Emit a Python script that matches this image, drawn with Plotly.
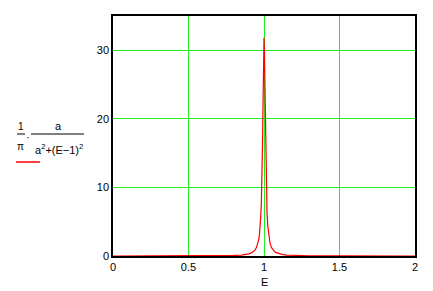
import plotly.graph_objects as go

# Values (Lorentzian peak at E = 1)
E_left = [0.0, 0.5, 0.7, 0.8, 0.85, 0.875, 0.9, 0.92, 0.93, 0.94, 0.95, 0.96, 0.965,
          0.97, 0.975, 0.98, 0.9825, 0.985, 0.9875, 0.99, 0.9925, 0.995, 0.9975]
Y_left = [0.003, 0.013, 0.035, 0.079, 0.14, 0.20, 0.32, 0.49, 0.64, 0.86, 1.22, 1.87, 2.40,
          3.18, 4.39, 6.37, 7.84, 9.79, 12.42, 15.92, 20.37, 25.46, 29.96]
E_peak = [1.0]
Y_peak = [31.83]
E_right = [1.0025, 1.005, 1.0075, 1.01, 1.0125, 1.015, 1.0175, 1.02, 1.025, 1.03, 1.035,
           1.04, 1.05, 1.06, 1.07, 1.08, 1.1, 1.125, 1.15, 1.2, 1.3, 1.5, 2.0]
Y_right = [29.96, 25.46, 20.37, 15.92, 12.42, 9.79, 7.84, 6.37, 4.39, 3.18, 2.40,
           1.87, 1.22, 0.86, 0.64, 0.49, 0.32, 0.20, 0.14, 0.079, 0.035, 0.013, 0.003]

x_ticks = [0, 0.5, 1, 1.5, 2]
x_tick_labels = ["0", "0.5", "1", "1.5", "2"]
y_ticks = [0, 10, 20, 30]
y_tick_labels = ["0", "10", "20", "30"]
x_title = "E"

E = E_left + E_peak + E_right
Y = Y_left + Y_peak + Y_right

GREEN = "#22ee22"
FONT = "Liberation Sans, Arial, sans-serif"

fig = go.Figure()
fig.add_trace(go.Scatter(x=E, y=Y, mode="lines",
                         line=dict(color="#ff0000", width=1.2),
                         showlegend=False, hoverinfo="skip"))

fig.update_layout(
    width=433, height=291,
    margin=dict(l=113, r=18, t=16, b=35, autoexpand=False),
    paper_bgcolor="white", plot_bgcolor="white",
    font=dict(family=FONT, size=11, color="black"),
    xaxis=dict(range=[0, 2], tickvals=x_ticks, ticktext=x_tick_labels,
               showgrid=True, gridcolor=GREEN, gridwidth=1.2, automargin=False,
               zeroline=False, showline=True, linecolor="black", linewidth=1.5,
               mirror=True, ticks="", tickfont=dict(size=11, color="black")),
    yaxis=dict(range=[0, 35], tickvals=y_ticks, ticktext=y_tick_labels,
               showgrid=True, gridcolor=GREEN, gridwidth=1.2, automargin=False,
               zeroline=False, showline=True, linecolor="black", linewidth=1.5,
               mirror=True, ticks="", tickfont=dict(size=11, color="black")),
)

W, H = 302.0, 240.0
def px(x):
    return (x - 113) / W
def py(y):
    return (256 - y) / H

def txt(x, y, s, size=11):
    fig.add_annotation(x=px(x), y=py(y), xref="paper", yref="paper", text=s,
                       showarrow=False, font=dict(family=FONT, size=size, color="black"),
                       xanchor="center", yanchor="middle")

txt(264, 282, x_title, 11)

# label expression: (1/pi) * a / (a^2 + (E-1)^2)
txt(20.5, 126, "1", 10)
txt(20.5, 146, "π", 10)
txt(28, 137, "·", 11)
txt(58, 126, "a", 11)
txt(59, 149, "a<sup>2</sup>+(E−1)<sup>2</sup>", 11)

fig.add_shape(type="line", xref="paper", yref="paper",
              x0=px(17), x1=px(25), y0=py(134), y1=py(134), line=dict(color="black", width=1))
fig.add_shape(type="line", xref="paper", yref="paper",
              x0=px(31), x1=px(84), y0=py(134), y1=py(134), line=dict(color="black", width=1))
fig.add_shape(type="line", xref="paper", yref="paper",
              x0=px(16), x1=px(40), y0=py(162), y1=py(162), line=dict(color="#ff0000", width=1.5))

fig.write_html("out.html")
